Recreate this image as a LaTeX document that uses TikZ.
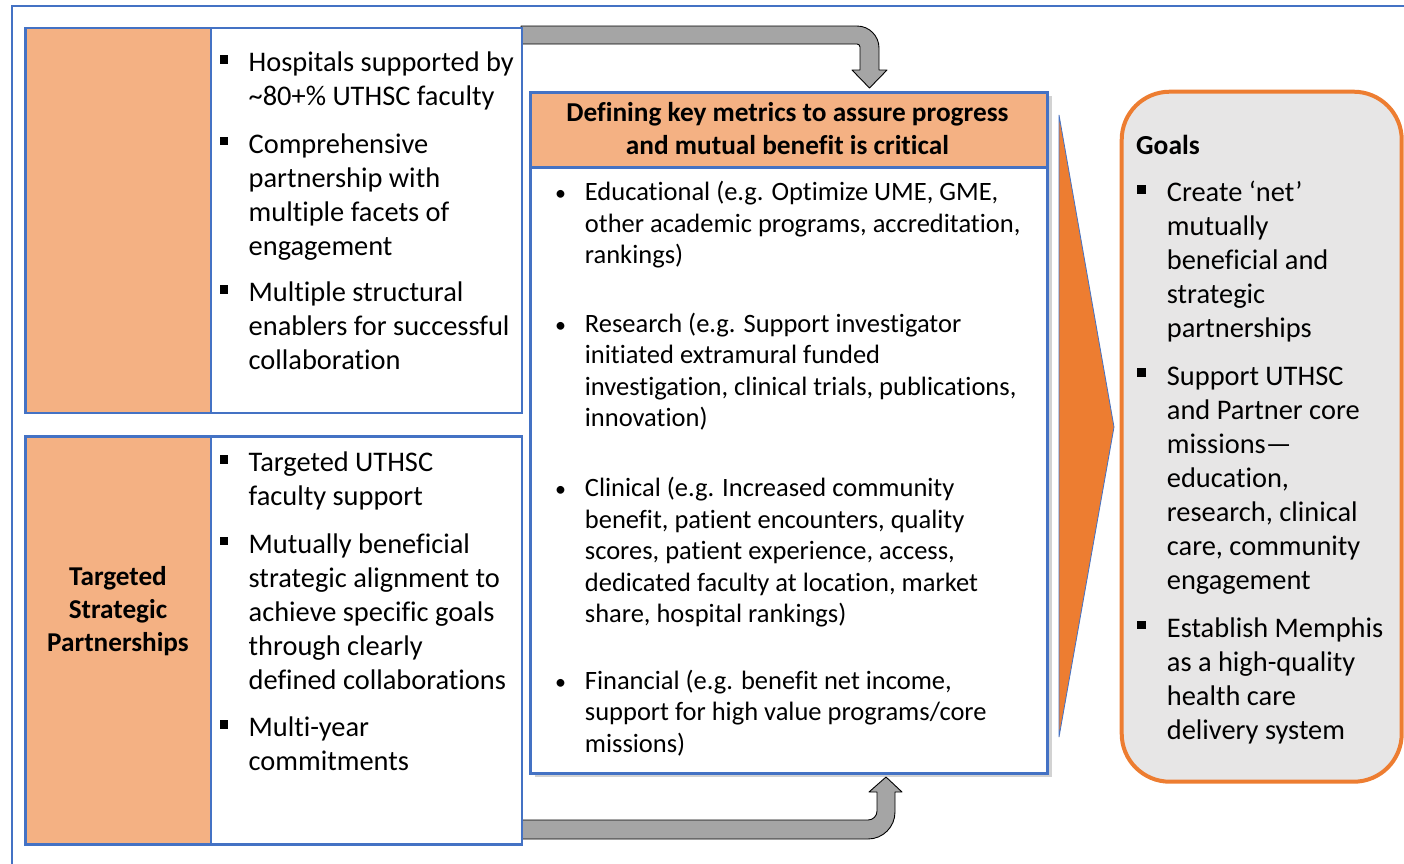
\documentclass[tikz,border=0pt]{standalone}
\usepackage{fontspec}
\setmainfont{Carlito}[Ligatures=NoCommon]
\usetikzlibrary{shadows}
\definecolor{bblue}{HTML}{4472C4}
\definecolor{lorange}{HTML}{F4B183}
\definecolor{dorange}{HTML}{ED7D31}
\definecolor{lgray}{HTML}{E7E6E6}
\definecolor{agray}{HTML}{A5A5A5}
\newcommand\sstrut{\rule{0pt}{26pt}}
\tikzset{
  lt/.style={inner sep=0, anchor=north west, align=left, font=\fontsize{28.4}{34}\selectfont},
  ct/.style={inner sep=0, anchor=north west, align=left, font=\fontsize{26.5}{31.4}\selectfont},
  dotb/.style={inner sep=0, anchor=north west, font=\fontsize{22}{31.4}\selectfont},
  sqb/.style={rectangle, fill=black, inner sep=0, minimum size=8.5pt},
  bluebox/.style={draw=bblue, line width=2.5pt, inner sep=0, anchor=north west},
  fatarrow/.style={fill=agray, draw=black, line width=0.9pt, line join=round},
}
\begin{document}
\begin{tikzpicture}[x=1pt, y=-1pt]
\useasboundingbox (0,0) rectangle (1404,863);
\fill[white] (0,0) rectangle (1404,863);
% outer frame
\draw[bblue, line width=1.3pt] (12,870) -- (12,6) -- (1410,6);

% arrows
\draw[fatarrow] (521,26) -- (857,26) .. controls (869.15,26) and (879,35.85) .. (879,48)
  -- (879,70) -- (887,70) -- (869.5,88) -- (852,70) -- (860,70) -- (860,47)
  .. controls (860,45.34) and (858.66,44) .. (857,44) -- (521,44) -- cycle;
\draw[fatarrow] (522,820) -- (868,820) .. controls (872.97,820) and (877,815.97) .. (877,811)
  -- (877,792) -- (869,792) -- (886,777) -- (902,792) -- (895,792) -- (895,812)
  .. controls (895,826.91) and (882.91,839) .. (868,839) -- (522,839) -- cycle;

% left top box
\node[bluebox, fill=lorange, minimum width=185.5pt, minimum height=385pt] (lab1) at (24,26.5) {};
\node[bluebox, fill=white, minimum width=311pt, minimum height=385pt] (txt1) at (209.5,26.5) {};
% left bottom box
\node[bluebox, fill=lorange, minimum width=185.5pt, minimum height=408pt] (lab2) at (24,435) {};
\node[bluebox, fill=white, minimum width=311pt, minimum height=408pt] (txt2) at (209.5,435) {};
\node[inner sep=0, anchor=north, align=center, font=\fontsize{27.2}{32.7}\selectfont\bfseries] (labtext) at (118,585.7-26) {\sstrut Targeted\\Strategic\\Partnerships};

% left bullets
\node[sqb] (b1) at (224.2,71.7-12.3) {};
\node[lt] (t1) at (248.5,71.7-26) {\sstrut Hospitals supported by\\\textasciitilde 80+\% UTHSC faculty};
\node[sqb] (b2) at (224.2,153.3-12.3) {};
\node[lt] (t2) at (248.5,153.3-26) {\sstrut Comprehensive\\partnership with\\multiple facets of\\engagement};
\node[sqb] (b3) at (224.2,301.7-12.3) {};
\node[lt] (t3) at (248.5,301.7-26) {\sstrut Multiple structural\\enablers for successful\\collaboration};
\node[sqb] (b4) at (224.2,471.7-12.3) {};
\node[lt] (t4) at (248.5,471.7-26) {\sstrut Targeted UTHSC\\faculty support};
\node[sqb] (b5) at (224.2,553.3-12.3) {};
\node[lt] (t5) at (248.5,553.3-26) {\sstrut Mutually beneficial\\strategic alignment to\\achieve specific goals\\through clearly\\defined collaborations};
\node[sqb] (b6) at (224.2,736.7-12.3) {};
\node[lt] (t6) at (248.5,736.7-26) {\sstrut Multi-year\\commitments};

% center box
\node[bluebox, line width=3pt, fill=white, drop shadow={opacity=0.35, shadow xshift=4pt, shadow yshift=-4pt}, minimum width=517pt, minimum height=681pt] (metrics) at (529,90.5) {};
\node[bluebox, line width=3pt, fill=lorange, minimum width=517pt, minimum height=75.5pt] (mhead) at (529,90.5) {};
\node[inner sep=0, anchor=north, align=center, font=\fontsize{27.3}{32.3}\selectfont\bfseries] (mheadtext) at (787.5,121.7-26) {\sstrut Defining key metrics to assure progress\\and mutual benefit is critical};

\node[dotb] (d1) at (555,200.7-26) {\sstrut •};
\node[ct] (m1) at (584.7,200.7-26) {\sstrut Educational (e.g. Optimize UME, GME,\\other academic programs, accreditation,\\rankings)};
\node[dotb] (d2) at (555,332.3-26) {\sstrut •};
\node[ct] (m2) at (584.7,332.3-26) {\sstrut Research (e.g. Support investigator\\initiated extramural funded\\investigation, clinical trials, publications,\\innovation)};
\node[dotb] (d3) at (555,496.7-26) {\sstrut •};
\node[ct] (m3) at (584.7,496.7-26) {\sstrut Clinical (e.g. Increased community\\benefit, patient encounters, quality\\scores, patient experience, access,\\dedicated faculty at location, market\\share, hospital rankings)};
\node[dotb] (d4) at (555,689.3-26) {\sstrut •};
\node[ct] (m4) at (584.7,689.3-26) {\sstrut Financial (e.g. benefit net income,\\support for high value programs/core\\missions)};

% big orange chevron
\draw[fill=dorange, draw=bblue, line width=0.8pt] (1059,115) -- (1114,427) -- (1059,737) -- cycle;

% goals box
\draw[fill=lgray, draw=dorange, line width=4pt, rounded corners=48pt] (1121.7,91.7) rectangle (1401.7,781.7);
\node[inner sep=0, anchor=north west, font=\fontsize{27.5}{34}\selectfont\bfseries] (goals) at (1136,154-26) {\sstrut Goals};
\node[sqb] (g1) at (1141.5,201.7-12.3) {};
\node[lt] (gt1) at (1166.7,201.7-26) {\sstrut Create ‘net’\\mutually\\beneficial and\\strategic\\partnerships};
\node[sqb] (g2) at (1141.5,385-12.3) {};
\node[lt] (gt2) at (1166.7,385-26) {\sstrut Support UTHSC\\and Partner core\\missions—\\education,\\research, clinical\\care, community\\engagement};
\node[sqb] (g3) at (1141.5,637.3-12.3) {};
\node[lt] (gt3) at (1166.7,637.3-26) {\sstrut Establish Memphis\\as a high-quality\\health care\\delivery system};
\end{tikzpicture}
\end{document}
